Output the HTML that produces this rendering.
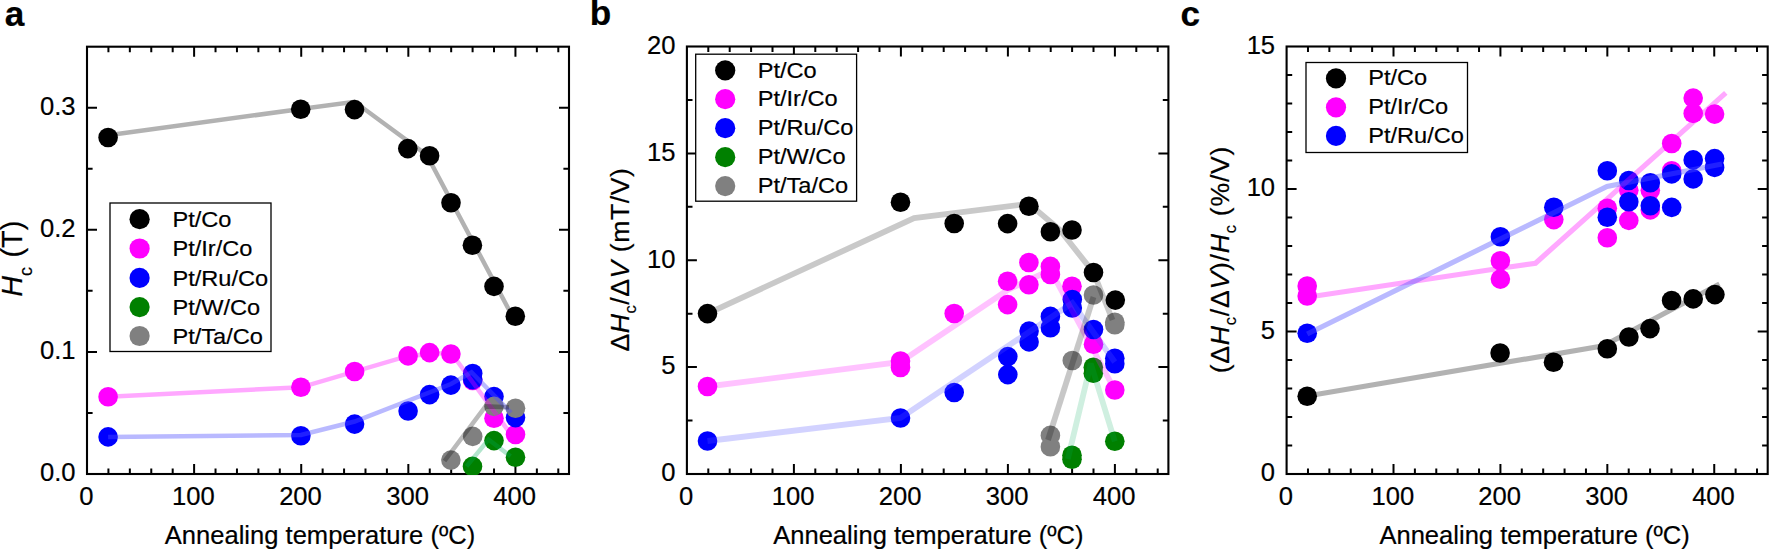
<!DOCTYPE html>
<html lang="en">
<head>
<meta charset="utf-8">
<title>Coercivity versus annealing temperature</title>
<style>
html,body{margin:0;padding:0;background:#fff;}
body{width:1770px;height:550px;overflow:hidden;}
svg{display:block;font-family:"Liberation Sans", Arial, sans-serif;}
text{stroke:#000;stroke-width:0.2px;}
</style>
</head>
<body>
<svg width="1770" height="550" viewBox="0 0 1770 550">
<rect width="1770" height="550" fill="#fff"/>
<g id="panel-a">
<rect x="87" y="46.7" width="482" height="427.3" fill="none" stroke="#000" stroke-width="2.1"/>
<path d="M108.42 474v-5.6M108.42 46.7v5.6M129.84 474v-5.6M129.84 46.7v5.6M151.27 474v-5.6M151.27 46.7v5.6M172.69 474v-5.6M172.69 46.7v5.6M194.11 474v-10M194.11 46.7v10M215.53 474v-5.6M215.53 46.7v5.6M236.96 474v-5.6M236.96 46.7v5.6M258.38 474v-5.6M258.38 46.7v5.6M279.80 474v-5.6M279.80 46.7v5.6M301.22 474v-10M301.22 46.7v10M322.64 474v-5.6M322.64 46.7v5.6M344.07 474v-5.6M344.07 46.7v5.6M365.49 474v-5.6M365.49 46.7v5.6M386.91 474v-5.6M386.91 46.7v5.6M408.33 474v-10M408.33 46.7v10M429.76 474v-5.6M429.76 46.7v5.6M451.18 474v-5.6M451.18 46.7v5.6M472.60 474v-5.6M472.60 46.7v5.6M494.02 474v-5.6M494.02 46.7v5.6M515.44 474v-10M515.44 46.7v10M536.87 474v-5.6M536.87 46.7v5.6M558.29 474v-5.6M558.29 46.7v5.6M87 412.96h5.6M569 412.96h-5.6M87 351.91h10M569 351.91h-10M87 290.87h5.6M569 290.87h-5.6M87 229.83h10M569 229.83h-10M87 168.79h5.6M569 168.79h-5.6M87 107.74h10M569 107.74h-10" stroke="#000" stroke-width="2" fill="none"/>
<g font-size="25.6" fill="#000">
<text x="86.3" y="504.8" text-anchor="middle">0</text>
<text x="193.4" y="504.8" text-anchor="middle">100</text>
<text x="300.5" y="504.8" text-anchor="middle">200</text>
<text x="407.6" y="504.8" text-anchor="middle">300</text>
<text x="514.7" y="504.8" text-anchor="middle">400</text>
<text x="75.5" y="481.3" text-anchor="end">0.0</text>
<text x="75.5" y="359.2" text-anchor="end">0.1</text>
<text x="75.5" y="237.1" text-anchor="end">0.2</text>
<text x="75.5" y="115.0" text-anchor="end">0.3</text>
</g>
<text x="320.0" y="543.5" font-size="25.55" text-anchor="middle">Annealing temperature (ºC)</text>
<text transform="translate(22.2,296.8) rotate(-90)" font-size="28.8"><tspan font-style="italic">H</tspan><tspan font-size="18" dy="9.6">c</tspan><tspan dy="-9.6" dx="1.5"> (T)</tspan></text>
<text x="4.8" y="25.5" font-size="35.2" font-weight="bold">a</text>
<svg x="86.1" y="45.8" width="483.8" height="429.1" viewBox="86.1 45.8 483.8 429.1" overflow="hidden">
<g fill="#000000">
<circle cx="108.1" cy="137.5" r="9.8"/>
<circle cx="300.7" cy="109.2" r="9.8"/>
<circle cx="354.5" cy="109.6" r="9.8"/>
<circle cx="407.8" cy="148.6" r="9.8"/>
<circle cx="429.6" cy="155.8" r="9.8"/>
<circle cx="451.0" cy="202.8" r="9.8"/>
<circle cx="472.4" cy="245.3" r="9.8"/>
<circle cx="494.0" cy="286.4" r="9.8"/>
<circle cx="515.3" cy="316.2" r="9.8"/>
</g>
<g fill="#ff00ff">
<circle cx="108.1" cy="396.8" r="9.8"/>
<circle cx="300.9" cy="387.3" r="9.8"/>
<circle cx="354.6" cy="371.5" r="9.8"/>
<circle cx="408.1" cy="355.9" r="9.8"/>
<circle cx="429.6" cy="352.6" r="9.8"/>
<circle cx="450.9" cy="354.0" r="9.8"/>
<circle cx="472.7" cy="380.5" r="9.8"/>
<circle cx="494.0" cy="418.2" r="9.8"/>
<circle cx="515.5" cy="434.5" r="9.8"/>
</g>
<g fill="#0000ff">
<circle cx="108.1" cy="436.9" r="9.8"/>
<circle cx="300.9" cy="435.8" r="9.8"/>
<circle cx="354.6" cy="424.1" r="9.8"/>
<circle cx="408.1" cy="411.0" r="9.8"/>
<circle cx="429.6" cy="394.6" r="9.8"/>
<circle cx="450.9" cy="385.1" r="9.8"/>
<circle cx="472.7" cy="373.5" r="9.8"/>
<circle cx="472.7" cy="379.6" r="9.8"/>
<circle cx="494.0" cy="396.6" r="9.8"/>
<circle cx="515.5" cy="417.6" r="9.8"/>
</g>
<g fill="#008000">
<circle cx="472.5" cy="466.4" r="9.8"/>
<circle cx="494.0" cy="440.6" r="9.8"/>
<circle cx="515.5" cy="457.2" r="9.8"/>
</g>
<g fill="#808080">
<circle cx="450.9" cy="460.1" r="9.8"/>
<circle cx="472.7" cy="436.4" r="9.8"/>
<circle cx="494.0" cy="406.4" r="9.8"/>
<circle cx="515.5" cy="408.3" r="9.8"/>
</g>
<path d="M108.1 135.3 L300.7 109.0 L354.5 101.8 L426.8 155.0 L511.6 314.8" fill="none" stroke="rgba(0,0,0,0.30)" stroke-width="4.5" stroke-linejoin="miter" stroke-miterlimit="2"/>
<path d="M108.1 396.8 L300.9 387.3 L408.1 355.9 L450.9 352.5 L510.0 433.1" fill="none" stroke="rgba(255,0,255,0.34)" stroke-width="4.5" stroke-linejoin="miter" stroke-miterlimit="2"/>
<path d="M108.1 436.9 L300.9 435.0 L354.6 421.5 L451.0 384.0 L471.5 372.3 L510.9 412.7" fill="none" stroke="rgba(80,80,255,0.40)" stroke-width="4.5" stroke-linejoin="miter" stroke-miterlimit="2"/>
<path d="M466.5 466.4 L488.5 439.5 L510.5 456.3" fill="none" stroke="rgba(0,170,90,0.30)" stroke-width="4.5" stroke-linejoin="miter" stroke-miterlimit="2"/>
<path d="M444.5 461.0 L485.5 406.4 L509.0 407.2" fill="none" stroke="rgba(0,0,0,0.27)" stroke-width="4.5" stroke-linejoin="miter" stroke-miterlimit="2"/>
</svg>
<rect x="110" y="203" width="161" height="148.5" fill="#fff" stroke="#000" stroke-width="1.3"/>
<g font-size="22.7">
<circle cx="139.6" cy="219.2" r="10.1" fill="#000000"/>
<text transform="translate(172.4,227.0) scale(1.04,1)">Pt/Co</text>
<circle cx="139.6" cy="248.5" r="10.1" fill="#ff00ff"/>
<text transform="translate(172.4,256.3) scale(1.04,1)">Pt/Ir/Co</text>
<circle cx="139.6" cy="277.9" r="10.1" fill="#0000ff"/>
<text transform="translate(172.4,285.7) scale(1.04,1)">Pt/Ru/Co</text>
<circle cx="139.6" cy="307.1" r="10.1" fill="#008000"/>
<text transform="translate(172.4,314.9) scale(1.04,1)">Pt/W/Co</text>
<circle cx="139.6" cy="336" r="10.1" fill="#808080"/>
<text transform="translate(172.4,343.8) scale(1.04,1)">Pt/Ta/Co</text>
</g>
</g>
<g id="panel-b">
<rect x="686.9" y="46.5" width="481.5000000000001" height="427.5" fill="none" stroke="#000" stroke-width="2.1"/>
<path d="M708.30 474v-5.6M708.30 46.5v5.6M729.70 474v-5.6M729.70 46.5v5.6M751.10 474v-5.6M751.10 46.5v5.6M772.50 474v-5.6M772.50 46.5v5.6M793.90 474v-10M793.90 46.5v10M815.30 474v-5.6M815.30 46.5v5.6M836.70 474v-5.6M836.70 46.5v5.6M858.10 474v-5.6M858.10 46.5v5.6M879.50 474v-5.6M879.50 46.5v5.6M900.90 474v-10M900.90 46.5v10M922.30 474v-5.6M922.30 46.5v5.6M943.70 474v-5.6M943.70 46.5v5.6M965.10 474v-5.6M965.10 46.5v5.6M986.50 474v-5.6M986.50 46.5v5.6M1007.90 474v-10M1007.90 46.5v10M1029.30 474v-5.6M1029.30 46.5v5.6M1050.70 474v-5.6M1050.70 46.5v5.6M1072.10 474v-5.6M1072.10 46.5v5.6M1093.50 474v-5.6M1093.50 46.5v5.6M1114.90 474v-10M1114.90 46.5v10M1136.30 474v-5.6M1136.30 46.5v5.6M1157.70 474v-5.6M1157.70 46.5v5.6M686.9 420.56h5.6M1168.4 420.56h-5.6M686.9 367.12h10M1168.4 367.12h-10M686.9 313.69h5.6M1168.4 313.69h-5.6M686.9 260.25h10M1168.4 260.25h-10M686.9 206.81h5.6M1168.4 206.81h-5.6M686.9 153.38h10M1168.4 153.38h-10M686.9 99.94h5.6M1168.4 99.94h-5.6" stroke="#000" stroke-width="2" fill="none"/>
<g font-size="25.6" fill="#000">
<text x="686.2" y="504.8" text-anchor="middle">0</text>
<text x="793.2" y="504.8" text-anchor="middle">100</text>
<text x="900.2" y="504.8" text-anchor="middle">200</text>
<text x="1007.2" y="504.8" text-anchor="middle">300</text>
<text x="1114.2" y="504.8" text-anchor="middle">400</text>
<text x="675.4" y="481.3" text-anchor="end">0</text>
<text x="675.4" y="374.4" text-anchor="end">5</text>
<text x="675.4" y="267.6" text-anchor="end">10</text>
<text x="675.4" y="160.7" text-anchor="end">15</text>
<text x="675.4" y="53.8" text-anchor="end">20</text>
</g>
<text x="928.4" y="543.5" font-size="25.55" text-anchor="middle">Annealing temperature (ºC)</text>
<text transform="translate(628.6,351.6) rotate(-90)" font-size="26.6" textLength="183.4" lengthAdjust="spacing">Δ<tspan font-style="italic">H</tspan><tspan font-size="16.5" dy="7.6">c</tspan><tspan dy="-7.6">/Δ</tspan><tspan font-style="italic">V</tspan> (mT/V)</text>
<text x="589.8" y="25.3" font-size="35.2" font-weight="bold">b</text>
<svg x="686.0" y="45.6" width="483.3" height="429.3" viewBox="686.0 45.6 483.3 429.3" overflow="hidden">
<g fill="#000000">
<circle cx="707.5" cy="313.6" r="9.8"/>
<circle cx="900.5" cy="202.3" r="9.8"/>
<circle cx="954.2" cy="223.5" r="9.8"/>
<circle cx="1007.6" cy="223.6" r="9.8"/>
<circle cx="1028.9" cy="206.3" r="9.8"/>
<circle cx="1050.4" cy="231.8" r="9.8"/>
<circle cx="1072.0" cy="230.0" r="9.8"/>
<circle cx="1093.5" cy="272.5" r="9.8"/>
<circle cx="1115.3" cy="300.1" r="9.8"/>
</g>
<g fill="#ff00ff">
<circle cx="707.5" cy="386.5" r="9.8"/>
<circle cx="900.5" cy="361.0" r="9.8"/>
<circle cx="900.5" cy="367.5" r="9.8"/>
<circle cx="954.2" cy="313.5" r="9.8"/>
<circle cx="1007.6" cy="281.3" r="9.8"/>
<circle cx="1007.6" cy="304.6" r="9.8"/>
<circle cx="1028.9" cy="262.5" r="9.8"/>
<circle cx="1028.9" cy="284.7" r="9.8"/>
<circle cx="1050.4" cy="266.4" r="9.8"/>
<circle cx="1050.4" cy="274.5" r="9.8"/>
<circle cx="1072.0" cy="286.2" r="9.8"/>
<circle cx="1093.5" cy="344.2" r="9.8"/>
<circle cx="1114.8" cy="390.0" r="9.8"/>
</g>
<g fill="#0000ff">
<circle cx="707.5" cy="441.0" r="9.8"/>
<circle cx="900.5" cy="418.0" r="9.8"/>
<circle cx="954.2" cy="392.5" r="9.8"/>
<circle cx="1007.8" cy="356.6" r="9.8"/>
<circle cx="1007.8" cy="374.6" r="9.8"/>
<circle cx="1029.1" cy="331.1" r="9.8"/>
<circle cx="1029.1" cy="341.9" r="9.8"/>
<circle cx="1050.4" cy="316.4" r="9.8"/>
<circle cx="1050.4" cy="327.8" r="9.8"/>
<circle cx="1072.3" cy="299.5" r="9.8"/>
<circle cx="1072.3" cy="308.0" r="9.8"/>
<circle cx="1093.5" cy="329.5" r="9.8"/>
<circle cx="1114.8" cy="358.2" r="9.8"/>
<circle cx="1114.8" cy="363.8" r="9.8"/>
</g>
<g fill="#008000">
<circle cx="1072.0" cy="455.3" r="9.8"/>
<circle cx="1072.0" cy="459.3" r="9.8"/>
<circle cx="1093.3" cy="367.3" r="9.8"/>
<circle cx="1093.3" cy="373.2" r="9.8"/>
<circle cx="1114.8" cy="441.3" r="9.8"/>
</g>
<g fill="#808080">
<circle cx="1050.4" cy="435.4" r="9.8"/>
<circle cx="1050.4" cy="446.8" r="9.8"/>
<circle cx="1072.3" cy="360.5" r="9.8"/>
<circle cx="1093.5" cy="295.0" r="9.8"/>
<circle cx="1114.8" cy="322.3" r="9.8"/>
<circle cx="1114.8" cy="324.8" r="9.8"/>
</g>
<path d="M707.5 313.6 L914.1 218.1 L1028.9 203.8 L1059.5 229.5 L1093.5 272.5 L1112.5 320.0" fill="none" stroke="rgba(0,0,0,0.21)" stroke-width="5.8" stroke-linejoin="miter" stroke-miterlimit="2"/>
<path d="M707.5 386.5 L900.5 362.0 L1007.6 290.0 L1050.4 270.0 L1114.8 390.0" fill="none" stroke="rgba(255,0,255,0.24)" stroke-width="5.8" stroke-linejoin="miter" stroke-miterlimit="2"/>
<path d="M707.5 441.0 L900.5 418.0 L1072.3 303.0 L1114.8 362.0" fill="none" stroke="rgba(80,80,255,0.26)" stroke-width="5.8" stroke-linejoin="miter" stroke-miterlimit="2"/>
<path d="M1067.8 459.0 L1090.8 363.5 L1114.8 441.3" fill="none" stroke="rgba(0,170,90,0.19)" stroke-width="5.8" stroke-linejoin="miter" stroke-miterlimit="2"/>
<path d="M1048.0 440.0 L1093.5 297.0" fill="none" stroke="rgba(0,0,0,0.22)" stroke-width="5.8" stroke-linejoin="miter" stroke-miterlimit="2"/>
</svg>
<rect x="695.7" y="54.2" width="160.89999999999998" height="147.0" fill="#fff" stroke="#000" stroke-width="1.3"/>
<g font-size="22.7">
<circle cx="725.2" cy="70.4" r="10.1" fill="#000000"/>
<text transform="translate(757.7,77.6) scale(1.04,1)">Pt/Co</text>
<circle cx="725.2" cy="99.2" r="10.1" fill="#ff00ff"/>
<text transform="translate(757.7,106.4) scale(1.04,1)">Pt/Ir/Co</text>
<circle cx="725.2" cy="128.2" r="10.1" fill="#0000ff"/>
<text transform="translate(757.7,135.4) scale(1.04,1)">Pt/Ru/Co</text>
<circle cx="725.2" cy="157.2" r="10.1" fill="#008000"/>
<text transform="translate(757.7,164.4) scale(1.04,1)">Pt/W/Co</text>
<circle cx="725.2" cy="186.1" r="10.1" fill="#808080"/>
<text transform="translate(757.7,193.3) scale(1.04,1)">Pt/Ta/Co</text>
</g>
</g>
<g id="panel-c">
<rect x="1286.6" y="46.5" width="481.10000000000014" height="427.5" fill="none" stroke="#000" stroke-width="2.1"/>
<path d="M1307.98 474v-5.6M1307.98 46.5v5.6M1329.36 474v-5.6M1329.36 46.5v5.6M1350.75 474v-5.6M1350.75 46.5v5.6M1372.13 474v-5.6M1372.13 46.5v5.6M1393.51 474v-10M1393.51 46.5v10M1414.89 474v-5.6M1414.89 46.5v5.6M1436.28 474v-5.6M1436.28 46.5v5.6M1457.66 474v-5.6M1457.66 46.5v5.6M1479.04 474v-5.6M1479.04 46.5v5.6M1500.42 474v-10M1500.42 46.5v10M1521.80 474v-5.6M1521.80 46.5v5.6M1543.19 474v-5.6M1543.19 46.5v5.6M1564.57 474v-5.6M1564.57 46.5v5.6M1585.95 474v-5.6M1585.95 46.5v5.6M1607.33 474v-10M1607.33 46.5v10M1628.72 474v-5.6M1628.72 46.5v5.6M1650.10 474v-5.6M1650.10 46.5v5.6M1671.48 474v-5.6M1671.48 46.5v5.6M1692.86 474v-5.6M1692.86 46.5v5.6M1714.24 474v-10M1714.24 46.5v10M1735.63 474v-5.6M1735.63 46.5v5.6M1757.01 474v-5.6M1757.01 46.5v5.6M1286.6 445.50h5.6M1767.7 445.50h-5.6M1286.6 417.00h5.6M1767.7 417.00h-5.6M1286.6 388.50h5.6M1767.7 388.50h-5.6M1286.6 360.00h5.6M1767.7 360.00h-5.6M1286.6 331.50h10M1767.7 331.50h-10M1286.6 303.00h5.6M1767.7 303.00h-5.6M1286.6 274.50h5.6M1767.7 274.50h-5.6M1286.6 246.00h5.6M1767.7 246.00h-5.6M1286.6 217.50h5.6M1767.7 217.50h-5.6M1286.6 189.00h10M1767.7 189.00h-10M1286.6 160.50h5.6M1767.7 160.50h-5.6M1286.6 132.00h5.6M1767.7 132.00h-5.6M1286.6 103.50h5.6M1767.7 103.50h-5.6M1286.6 75.00h5.6M1767.7 75.00h-5.6" stroke="#000" stroke-width="2" fill="none"/>
<g font-size="25.6" fill="#000">
<text x="1285.9" y="504.8" text-anchor="middle">0</text>
<text x="1392.8" y="504.8" text-anchor="middle">100</text>
<text x="1499.7" y="504.8" text-anchor="middle">200</text>
<text x="1606.6" y="504.8" text-anchor="middle">300</text>
<text x="1713.5" y="504.8" text-anchor="middle">400</text>
<text x="1275.1" y="481.3" text-anchor="end">0</text>
<text x="1275.1" y="338.8" text-anchor="end">5</text>
<text x="1275.1" y="196.3" text-anchor="end">10</text>
<text x="1275.1" y="53.8" text-anchor="end">15</text>
</g>
<text x="1534.6" y="543.5" font-size="25.55" text-anchor="middle">Annealing temperature (ºC)</text>
<text transform="translate(1228.5,373.3) rotate(-90)" font-size="26.6" textLength="226.7" lengthAdjust="spacing">(Δ<tspan font-style="italic">H</tspan><tspan font-size="16.5" dy="7.6">c</tspan><tspan dy="-7.6">/Δ</tspan><tspan font-style="italic">V</tspan>)/<tspan font-style="italic">H</tspan><tspan font-size="16.5" dy="7.6">c</tspan><tspan dy="-7.6"> (%/V)</tspan></text>
<text x="1180.4" y="25.5" font-size="35.2" font-weight="bold">c</text>
<svg x="1285.7" y="45.6" width="482.9" height="429.3" viewBox="1285.7 45.6 482.9 429.3" overflow="hidden">
<g fill="#000000">
<circle cx="1307.2" cy="396.2" r="9.8"/>
<circle cx="1500.1" cy="353.0" r="9.8"/>
<circle cx="1553.5" cy="362.3" r="9.8"/>
<circle cx="1607.3" cy="348.7" r="9.8"/>
<circle cx="1628.9" cy="337.0" r="9.8"/>
<circle cx="1650.0" cy="328.6" r="9.8"/>
<circle cx="1671.6" cy="300.5" r="9.8"/>
<circle cx="1693.2" cy="298.9" r="9.8"/>
<circle cx="1714.9" cy="294.6" r="9.8"/>
</g>
<g fill="#ff00ff">
<circle cx="1307.2" cy="286.0" r="9.8"/>
<circle cx="1307.2" cy="296.0" r="9.8"/>
<circle cx="1500.4" cy="260.7" r="9.8"/>
<circle cx="1500.4" cy="279.1" r="9.8"/>
<circle cx="1553.8" cy="219.6" r="9.8"/>
<circle cx="1607.3" cy="208.3" r="9.8"/>
<circle cx="1607.3" cy="237.8" r="9.8"/>
<circle cx="1628.8" cy="190.3" r="9.8"/>
<circle cx="1628.8" cy="220.4" r="9.8"/>
<circle cx="1650.3" cy="190.3" r="9.8"/>
<circle cx="1650.3" cy="209.9" r="9.8"/>
<circle cx="1671.7" cy="143.5" r="9.8"/>
<circle cx="1671.7" cy="170.7" r="9.8"/>
<circle cx="1693.2" cy="98.1" r="9.8"/>
<circle cx="1693.2" cy="113.4" r="9.8"/>
<circle cx="1714.6" cy="114.1" r="9.8"/>
</g>
<g fill="#0000ff">
<circle cx="1307.2" cy="333.2" r="9.8"/>
<circle cx="1500.4" cy="236.8" r="9.8"/>
<circle cx="1553.8" cy="207.3" r="9.8"/>
<circle cx="1607.3" cy="170.7" r="9.8"/>
<circle cx="1607.3" cy="217.2" r="9.8"/>
<circle cx="1628.8" cy="180.5" r="9.8"/>
<circle cx="1628.8" cy="201.8" r="9.8"/>
<circle cx="1650.3" cy="182.8" r="9.8"/>
<circle cx="1650.3" cy="205.7" r="9.8"/>
<circle cx="1671.7" cy="173.9" r="9.8"/>
<circle cx="1671.7" cy="207.4" r="9.8"/>
<circle cx="1693.2" cy="159.9" r="9.8"/>
<circle cx="1693.2" cy="178.9" r="9.8"/>
<circle cx="1714.6" cy="158.6" r="9.8"/>
<circle cx="1714.6" cy="167.4" r="9.8"/>
</g>
<path d="M1307.2 396.0 L1603.6 345.8 L1719.5 284.0" fill="none" stroke="rgba(0,0,0,0.30)" stroke-width="5.2" stroke-linejoin="miter" stroke-miterlimit="2"/>
<path d="M1307.2 297.2 L1500.4 268.2 L1535.5 263.2 L1725.8 92.9" fill="none" stroke="rgba(255,0,255,0.34)" stroke-width="5.2" stroke-linejoin="miter" stroke-miterlimit="2"/>
<path d="M1307.2 334.0 L1607.0 186.5 L1722.0 164.0" fill="none" stroke="rgba(80,80,255,0.40)" stroke-width="5.2" stroke-linejoin="miter" stroke-miterlimit="2"/>
</svg>
<rect x="1306" y="62.5" width="161.5" height="90.0" fill="#fff" stroke="#000" stroke-width="1.3"/>
<g font-size="22.7">
<circle cx="1336" cy="78.4" r="10.1" fill="#000000"/>
<text transform="translate(1368.2,85.4) scale(1.04,1)">Pt/Co</text>
<circle cx="1336" cy="107.3" r="10.1" fill="#ff00ff"/>
<text transform="translate(1368.2,114.3) scale(1.04,1)">Pt/Ir/Co</text>
<circle cx="1336" cy="135.9" r="10.1" fill="#0000ff"/>
<text transform="translate(1368.2,142.9) scale(1.04,1)">Pt/Ru/Co</text>
</g>
</g>
</svg>
</body>
</html>
